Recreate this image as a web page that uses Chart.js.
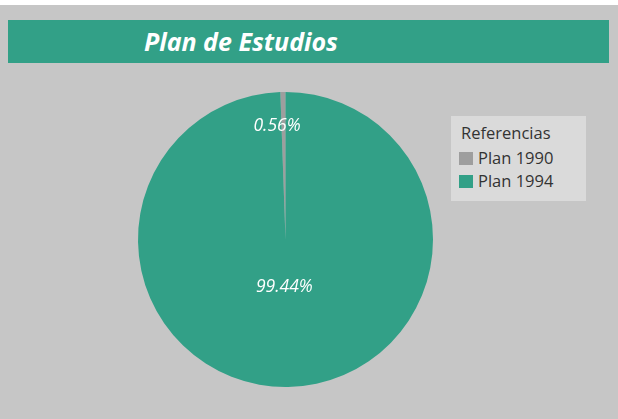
<!DOCTYPE html>
<html><head><meta charset="utf-8">
<script src="https://cdn.jsdelivr.net/npm/chart.js@4.4.1/dist/chart.umd.min.js"></script>
<style>
html,body{margin:0;padding:0;}
body{width:618px;height:419px;background:#fff;position:relative;overflow:hidden;font-family:"Open Sans",sans-serif;}
#bg{position:absolute;left:0;top:5px;width:618px;height:414px;background:#c6c6c6;}
#bar{position:absolute;left:8px;top:20px;width:601px;height:43px;background:#32a087;}
#title{position:absolute;left:144px;top:20px;height:43px;line-height:42px;color:#fff;font-weight:bold;font-style:italic;font-size:25px;white-space:nowrap;}
#wrap{position:absolute;left:0;top:0;width:618px;height:419px;}
#legend{position:absolute;left:451px;top:116px;width:135px;height:85px;background:#dadada;color:#333;font-size:16.5px;}
#legend .h{position:absolute;left:10px;top:5px;}
#legend .it{position:absolute;left:8px;height:20px;line-height:20px;white-space:nowrap;}
#legend .sw{display:inline-block;width:14px;height:13px;vertical-align:-1px;margin-right:5px;}
</style></head>
<body>
<div id="bg"></div>
<div id="bar"></div>
<div id="title">Plan de Estudios</div>
<div id="wrap"><canvas id="c" width="618" height="419"></canvas></div>
<div id="legend"><div class="h">Referencias</div></div>
<script>
const categories = ["Plan 1990", "Plan 1994"];
const values = [0.56, 99.44];
const valueLabels = ["0.56%", "99.44%"];
const colors = ["#9e9e9e", "#32a087"];

const leg = document.getElementById('legend');
categories.forEach((c, i) => {
  const d = document.createElement('div');
  d.className = 'it';
  d.style.top = (32 + i * 23) + 'px';
  d.innerHTML = '<span class="sw" style="background:' + colors[i] + '"></span>' + c;
  leg.appendChild(d);
});

const labelPlugin = {
  id: 'sliceLabels',
  afterDatasetsDraw(chart) {
    const ctx = chart.ctx;
    const meta = chart.getDatasetMeta(0);
    const fr = [0.77, 0.32];
    const dx = [-6.5, -2];
    ctx.save();
    ctx.fillStyle = '#fff';
    ctx.font = 'italic 17.5px "Open Sans", sans-serif';
    ctx.textAlign = 'center';
    ctx.textBaseline = 'middle';
    meta.data.forEach((arc, i) => {
      const p = arc.getProps(['x', 'y', 'startAngle', 'endAngle', 'outerRadius'], true);
      const a = (p.startAngle + p.endAngle) / 2;
      const r = p.outerRadius * fr[i];
      ctx.fillText(valueLabels[i], p.x + Math.cos(a) * r + dx[i], p.y + Math.sin(a) * r);
    });
    ctx.restore();
  }
};

new Chart(document.getElementById('c'), {
  type: 'pie',
  data: {
    labels: categories,
    datasets: [{ data: values, backgroundColor: colors, borderWidth: 0 }]
  },
  options: {
    responsive: false,
    animation: false,
    rotation: -values[0] / 100 * 360,
    layout: { padding: { left: 138, right: 185, top: 92, bottom: 32 } },
    plugins: { legend: { display: false }, tooltip: { enabled: false }, title: { display: false } }
  },
  plugins: [labelPlugin]
});
</script>
</body></html>
